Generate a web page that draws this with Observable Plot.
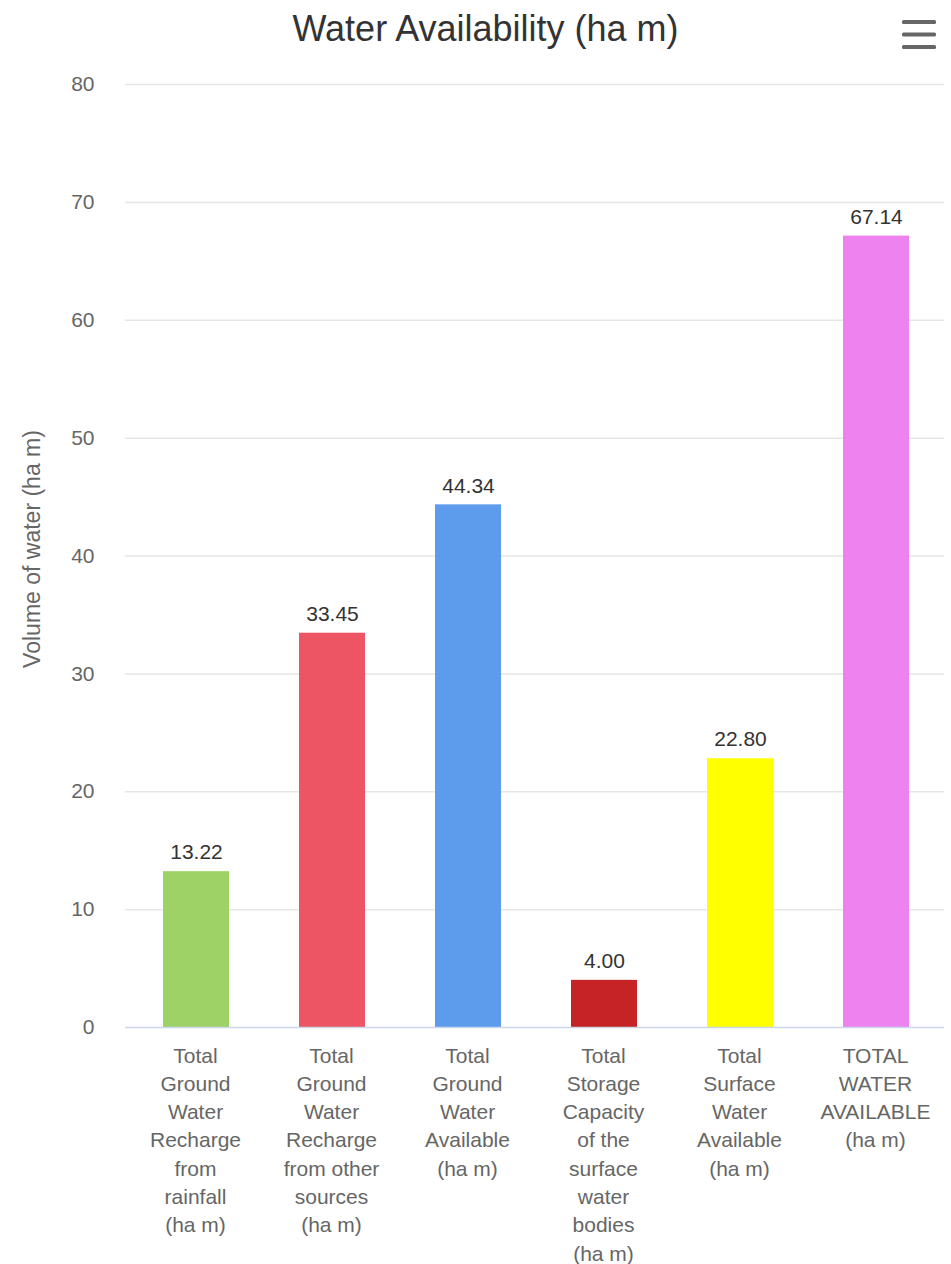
<!DOCTYPE html>
<html>
<head>
<meta charset="utf-8">
<script src="https://cdn.jsdelivr.net/npm/d3@7"></script>
<script src="https://cdn.jsdelivr.net/npm/@observablehq/plot@0.6"></script>
<style>
  html, body { margin: 0; padding: 0; background: #fff; }
  body { font-family: "Liberation Sans", Arial, Helvetica, sans-serif; }
  #wrap { position: relative; width: 951px; height: 1264px; }
  #title { position: absolute; top: 9px; left: 0; width: 951px; padding-left: 20px; box-sizing: border-box;
           text-align: center; font-size: 36px; color: #333; line-height: 40px; }
  #menu { position: absolute; left: 902px; top: 20px; }
  #chart { position: absolute; top: 60px; left: 0; }
</style>
</head>
<body>
<div id="wrap">
  <div id="title">Water Availability (ha m)</div>
  <svg id="menu" width="36" height="32">
    <rect x="0" y="0" width="34" height="4" rx="1.5" fill="#666"></rect>
    <rect x="0" y="12.5" width="34" height="4" rx="1.5" fill="#666"></rect>
    <rect x="0" y="25" width="34" height="4" rx="1.5" fill="#666"></rect>
  </svg>
  <div id="chart"></div>
</div>
<script>
const categories = [
  "Total\nGround\nWater\nRecharge\nfrom\nrainfall\n(ha m)",
  "Total\nGround\nWater\nRecharge\nfrom other\nsources\n(ha m)",
  "Total\nGround\nWater\nAvailable\n(ha m)",
  "Total\nStorage\nCapacity\nof the\nsurface\nwater\nbodies\n(ha m)",
  "Total\nSurface\nWater\nAvailable\n(ha m)",
  "TOTAL\nWATER\nAVAILABLE\n(ha m)"
];
const values = [13.22, 33.45, 44.34, 4.00, 22.80, 67.14];
const colors = ["#9fd266", "#ed5565", "#5d9cec", "#c62326", "#ffff00", "#ee82ee"];
const yTicks = [0, 10, 20, 30, 40, 50, 60, 70, 80];
const yTitle = ["Volume of water (ha m)"];

const data = categories.map((c, i) => ({category: c, value: values[i], color: colors[i]}));

const chart = Plot.plot({
  width: 951,
  height: 1204,
  marginTop: 24,
  marginBottom: 237,
  marginLeft: 125,
  marginRight: 7,
  style: {fontFamily: '"Liberation Sans", Arial, Helvetica, sans-serif', background: "#fff"},
  x: {domain: categories, padding: 0},
  y: {domain: [0, 80]},
  marks: [
    Plot.ruleY(yTicks.filter(d => d !== 0), {stroke: "#e6e6e6", strokeWidth: 1.5}),
    Plot.barY(data, {x: "category", y: "value", fill: "color", insetLeft: 36, insetRight: 34}),
    Plot.ruleY([0], {stroke: "#ccd6eb", strokeWidth: 1.5}),
    Plot.text(data, {x: "category", y: "value", text: d => d.value.toFixed(2), dy: -19, dx: 1,
      fontSize: 21, fill: "#333"}),
    Plot.axisY({ticks: yTicks, tickSize: 0, tickPadding: 31, fontSize: 21, fill: "#666", label: null}),
    Plot.text(yTitle, {text: d => d, frameAnchor: "left", textAnchor: "middle", rotate: -90, dx: -93, dy: -7,
      fontSize: 23, fill: "#666"}),
    Plot.axisX({tickSize: 0, tickPadding: 15, fontSize: 21, fill: "#666", lineHeight: 1.347,
      lineAnchor: "top", label: null})
  ]
});
document.getElementById("chart").appendChild(chart);
</script>
</body>
</html>
